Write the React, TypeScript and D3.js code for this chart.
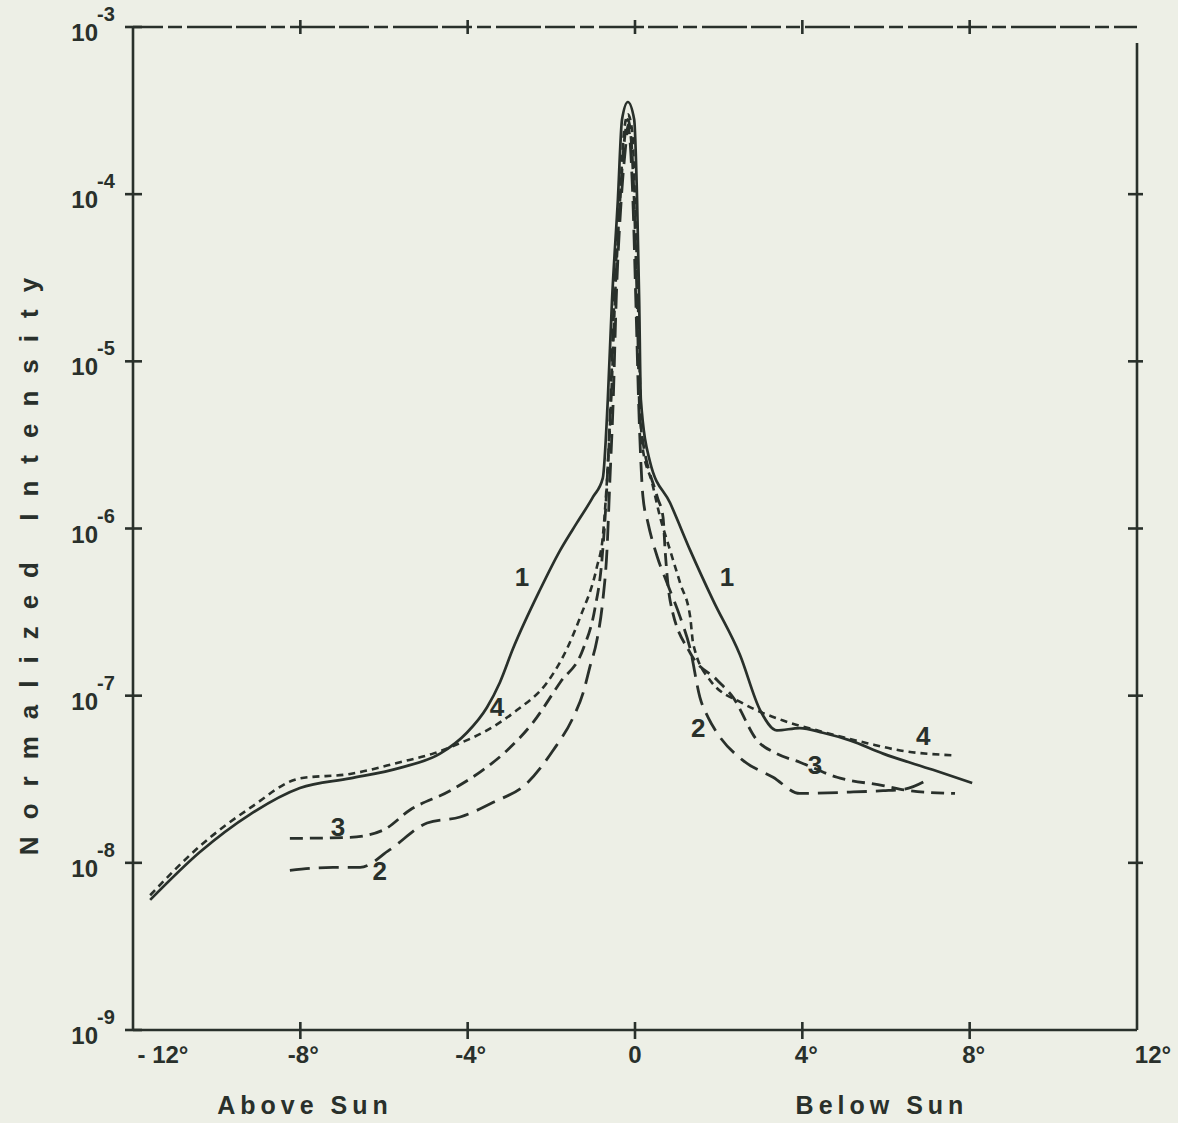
import React, { useEffect, useRef } from 'react';
import * as d3 from 'd3';

// degrees from sun (negative = above sun) and normalized intensity
const curve1Deg = [-11.59, -10.4, -9.2, -8.01, -6.81, -5.62, -4.66, -4.02, -3.54, -3.23, -2.92, -2.27, -1.79, -1.39, -1.0, -0.77, -0.65, -0.55, -0.41, -0.31, -0.17, -0.02, 0.05, 0.1, 0.14, 0.36, 0.84, 1.32, 1.87, 2.51, 2.99, 3.39, 3.94, 4.49, 5.14, 5.93, 7.12, 8.06];
const curve1Int = [6.0e-9, 1.16e-8, 1.95e-8, 2.8e-8, 3.2e-8, 3.7e-8, 4.5e-8, 6.0e-8, 8.5e-8, 1.2e-7, 1.9e-7, 4.3e-7, 7.4e-7, 1.08e-6, 1.55e-6, 2.0e-6, 5.9e-6, 2.3e-5, 9.2e-5, 2.8e-4, 3.56e-4, 2.8e-4, 9.2e-5, 2.3e-5, 5.9e-6, 2.5e-6, 1.42e-6, 7.4e-7, 3.7e-7, 1.75e-7, 8.2e-8, 6.2e-8, 6.4e-8, 6.0e-8, 5.4e-8, 4.5e-8, 3.6e-8, 3.0e-8];

const curve2Deg = [-8.25, -7.22, -6.57, -5.86, -4.97, -4.18, -3.39, -2.58, -1.96, -1.48, -1.24, -1.08, -0.91, -0.77, -0.67, -0.6, -0.52, -0.45, -0.33, -0.21, -0.17, -0.12, -0.05, 0.02, 0.1, 0.19, 0.31, 0.53, 0.77, 1.08, 1.32, 1.55, 1.75, 1.96, 2.58, 3.3, 3.94, 5.14, 5.93, 6.41, 7.05];
const curve2Int = [9.0e-9, 9.4e-9, 9.4e-9, 1.2e-8, 1.73e-8, 1.88e-8, 2.3e-8, 3.0e-8, 4.7e-8, 7.4e-8, 1.04e-7, 1.48e-7, 2.15e-7, 3.7e-7, 7.4e-7, 1.95e-6, 5.9e-6, 2.3e-5, 9.2e-5, 2.1e-4, 2.6e-4, 2.1e-4, 9.2e-5, 2.3e-5, 4.5e-6, 1.55e-6, 1.08e-6, 6.8e-7, 4.7e-7, 2.95e-7, 1.9e-7, 9.8e-8, 7.4e-8, 6.0e-8, 4.1e-8, 3.25e-8, 2.6e-8, 2.65e-8, 2.7e-8, 2.75e-8, 3.2e-8];

const curve3Deg = [-8.25, -6.81, -6.02, -5.38, -4.42, -3.63, -3.06, -2.44, -1.79, -1.24, -0.96, -0.79, -0.69, -0.6, -0.5, -0.36, -0.24, -0.17, -0.1, -0.02, 0.05, 0.12, 0.53, 0.67, 0.72, 0.84, 1.32, 1.96, 2.34, 2.92, 3.39, 3.94, 4.83, 5.93, 6.57, 7.65];
const curve3Int = [1.4e-8, 1.42e-8, 1.57e-8, 2.07e-8, 2.7e-8, 3.6e-8, 4.7e-8, 6.9e-8, 1.2e-7, 1.9e-7, 3.3e-7, 6.5e-7, 1.48e-6, 4.5e-6, 2.3e-5, 9.2e-5, 2.25e-4, 2.8e-4, 2.25e-4, 9.2e-5, 2.3e-5, 4.5e-6, 1.55e-6, 1.17e-6, 7.4e-7, 3.7e-7, 1.8e-7, 1.24e-7, 9.8e-8, 5.4e-8, 4.5e-8, 4.0e-8, 3.25e-8, 2.9e-8, 2.7e-8, 2.6e-8];

const curve4Deg = [-11.59, -10.4, -9.2, -8.01, -6.81, -5.62, -4.83, -4.18, -3.54, -2.82, -2.1, -1.63, -1.31, -0.91, -0.77, -0.67, -0.57, -0.48, -0.36, -0.26, -0.17, -0.07, 0.0, 0.07, 0.17, 0.41, 0.6, 0.84, 1.08, 1.32, 1.39, 1.79, 2.58, 3.54, 4.35, 5.55, 6.34, 7.6];
const curve4Int = [6.4e-9, 1.26e-8, 2.13e-8, 3.2e-8, 3.4e-8, 4.0e-8, 4.5e-8, 5.2e-8, 6.2e-8, 8.2e-8, 1.2e-7, 1.9e-7, 2.95e-7, 5.9e-7, 8.9e-7, 1.95e-6, 5.9e-6, 2.3e-5, 9.2e-5, 2.4e-4, 3.0e-4, 2.4e-4, 9.2e-5, 2.3e-5, 3.2e-6, 1.87e-6, 1.17e-6, 7.4e-7, 4.7e-7, 2.95e-7, 2.05e-7, 1.24e-7, 9.0e-8, 7.1e-8, 6.2e-8, 5.2e-8, 4.7e-8, 4.4e-8];

const xTicks = [-12, -8, -4, 0, 4, 8, 12];
const xTickLabels = ['- 12°', '-8°', '-4°', '0', '4°', '8°', '12°'];
const yExponents = [-3, -4, -5, -6, -7, -8, -9];

const INK = '#29302b';
const PAPER = '#edefe6';
const FONT = '"Liberation Sans", Arial, sans-serif';

const Chart = () => {
    const ref = useRef(null);

    useEffect(() => {
        const width = 1178;
        const height = 1123;
        const svg = d3.select(ref.current);
        svg.selectAll('*').remove();

        const x = d3.scaleLinear().domain([-12, 12]).range([133, 1137]);
        const y = d3.scaleLog().domain([1e-9, 1e-3]).range([1030, 27]);

        svg.append('rect').attr('width', width).attr('height', height).attr('fill', PAPER);

        // frame
        const frame = svg.append('g').attr('stroke', INK).attr('fill', 'none').attr('stroke-width', 2.6);
        frame.append('line').attr('x1', x(-12)).attr('x2', x(-12)).attr('y1', y(1e-3)).attr('y2', y(1e-9));
        frame.append('line').attr('x1', x(-12)).attr('x2', x(12)).attr('y1', y(1e-9)).attr('y2', y(1e-9));
        frame.append('line').attr('x1', x(12)).attr('x2', x(12)).attr('y1', y(1e-3) + 16).attr('y2', y(1e-9));
        frame.append('line').attr('x1', x(-12)).attr('x2', x(12)).attr('y1', y(1e-3)).attr('y2', y(1e-3))
            .attr('stroke-dasharray', '30,5,14,5,45,4');

        // ticks
        xTicks.slice(1, -1).forEach(t => {
            frame.append('line').attr('x1', x(t)).attr('x2', x(t)).attr('y1', y(1e-9) - 8).attr('y2', y(1e-9) + 9);
            frame.append('line').attr('x1', x(t)).attr('x2', x(t)).attr('y1', y(1e-3) - 7).attr('y2', y(1e-3) + 7);
        });
        yExponents.forEach(e => {
            const v = Math.pow(10, e);
            frame.append('line').attr('x1', x(-12) - 8).attr('x2', x(-12) + 9).attr('y1', y(v)).attr('y2', y(v));
            if (e !== -3 && e !== -9) {
                frame.append('line').attr('x1', x(12) - 9).attr('x2', x(12) + 6).attr('y1', y(v)).attr('y2', y(v));
            }
        });

        // y tick labels
        const yl = svg.append('g').attr('fill', INK).attr('font-family', FONT).attr('font-weight', 'bold');
        yExponents.forEach(e => {
            const yy = y(Math.pow(10, e));
            yl.append('text').attr('x', 98).attr('y', yy + 14).attr('text-anchor', 'end')
                .attr('font-size', 24).text('10');
            yl.append('text').attr('x', 97).attr('y', yy - 6).attr('font-size', 20).text(String(e));
        });

        // x tick labels
        const offsets = [30, 3, 3, 0, 4, 4, 16];
        xTicks.forEach((t, i) => {
            yl.append('text').attr('x', x(t) + offsets[i]).attr('y', 1063).attr('text-anchor', 'middle')
                .attr('font-size', 24).text(xTickLabels[i]);
        });

        // axis titles
        yl.append('text').attr('x', 305).attr('y', 1114).attr('text-anchor', 'middle')
            .attr('font-size', 25).attr('letter-spacing', 5).text('Above Sun');
        yl.append('text').attr('x', 882).attr('y', 1114).attr('text-anchor', 'middle')
            .attr('font-size', 25).attr('letter-spacing', 5).text('Below Sun');
        yl.append('text').attr('transform', 'translate(38,558) rotate(-90)').attr('text-anchor', 'middle')
            .attr('font-size', 26).attr('letter-spacing', 17).text('Normalized Intensity');

        // curves
        const line = d3.line()
            .x(d => x(d[0]))
            .y(d => y(d[1]))
            .curve(d3.curveMonotoneX);

        const series = [
            { deg: curve1Deg, val: curve1Int, dash: null, w: 2.7 },
            { deg: curve2Deg, val: curve2Int, dash: '20,9', w: 2.8 },
            { deg: curve3Deg, val: curve3Int, dash: '13,7', w: 2.8 },
            { deg: curve4Deg, val: curve4Int, dash: '7,5', w: 2.6 },
        ];
        series.forEach(s => {
            svg.append('path')
                .datum(s.deg.map((d, i) => [d, s.val[i]]))
                .attr('d', line)
                .attr('fill', 'none')
                .attr('stroke', INK)
                .attr('stroke-width', s.w)
                .attr('stroke-dasharray', s.dash);
        });

        // curve labels
        const labels = [
            ['1', -2.7, 5.1e-7], ['1', 2.2, 5.1e-7],
            ['2', -6.1, 8.9e-9], ['2', 1.51, 6.4e-8],
            ['3', -7.1, 1.64e-8], ['3', 4.3, 3.85e-8],
            ['4', -3.3, 8.5e-8], ['4', 6.89, 5.7e-8],
        ];
        labels.forEach(([t, d, v]) => {
            yl.append('text').attr('x', x(d)).attr('y', y(v) + 9).attr('text-anchor', 'middle')
                .attr('font-size', 26).text(t);
        });
    }, []);

    return <svg ref={ref} width={1178} height={1123} style={{ position: 'absolute', left: 0, top: 0 }}></svg>;
};

export default function App() {
    return <Chart />;
}
